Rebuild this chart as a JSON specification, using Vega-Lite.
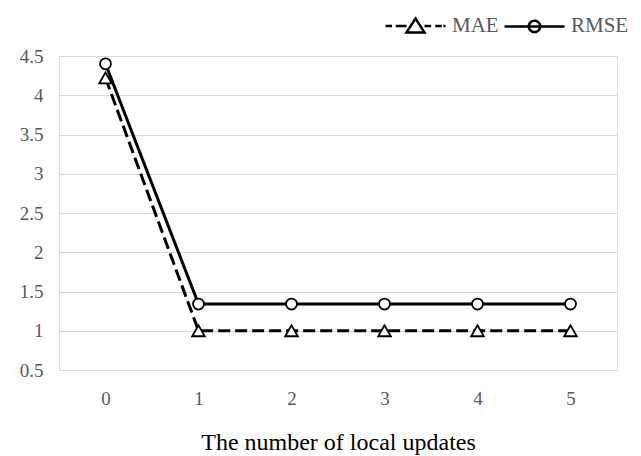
{
  "$schema": "https://vega.github.io/schema/vega-lite/v6.json",
  "autosize": "none",
  "width": 558,
  "height": 314,
  "padding": {"left": 59, "top": 56, "right": 24, "bottom": 86},
  "background": "white",
  "config": {
    "view": {"stroke": "#d9d9d9", "strokeWidth": 1},
    "font": "Liberation Serif",
    "axis": {"labelFont": "Liberation Serif", "titleFont": "Liberation Serif"},
    "legend": {"labelFont": "Liberation Serif"}
  },
  "data": {
    "values": [
      {"updates": "0", "series": "MAE", "value": 4.22},
      {"updates": "1", "series": "MAE", "value": 1.0},
      {"updates": "2", "series": "MAE", "value": 1.0},
      {"updates": "3", "series": "MAE", "value": 1.0},
      {"updates": "4", "series": "MAE", "value": 1.0},
      {"updates": "5", "series": "MAE", "value": 1.0},
      {"updates": "0", "series": "RMSE", "value": 4.4},
      {"updates": "1", "series": "RMSE", "value": 1.34},
      {"updates": "2", "series": "RMSE", "value": 1.34},
      {"updates": "3", "series": "RMSE", "value": 1.34},
      {"updates": "4", "series": "RMSE", "value": 1.34},
      {"updates": "5", "series": "RMSE", "value": 1.34}
    ]
  },
  "encoding": {
    "x": {
      "field": "updates",
      "type": "ordinal",
      "sort": ["0", "1", "2", "3", "4", "5"],
      "scale": {"type": "point", "padding": 0.5},
      "axis": {
        "title": "The number of local updates",
        "titleFontSize": 24,
        "titleFontWeight": "normal",
        "titleColor": "#000000",
        "titlePadding": 22,
        "labelAngle": 0,
        "labelFontSize": 19,
        "labelColor": "#595959",
        "labelPadding": 19,
        "ticks": false,
        "domain": false,
        "grid": false
      }
    },
    "y": {
      "field": "value",
      "type": "quantitative",
      "scale": {"domain": [0.5, 4.5], "nice": false, "zero": false},
      "axis": {
        "title": null,
        "values": [0.5, 1, 1.5, 2, 2.5, 3, 3.5, 4, 4.5],
        "format": "~g",
        "labelFontSize": 19,
        "labelColor": "#595959",
        "labelPadding": 16,
        "ticks": false,
        "domain": false,
        "grid": true,
        "gridColor": "#d9d9d9",
        "gridWidth": 1
      }
    }
  },
  "layer": [
    {
      "mark": {"type": "line", "strokeWidth": 3},
      "encoding": {
        "detail": {"field": "series"},
        "strokeDash": {
          "condition": {"test": "datum.series === 'MAE'", "value": [12, 5]},
          "value": [1, 0]
        },
        "color": {
          "field": "series",
          "type": "nominal",
          "scale": {"domain": ["MAE", "RMSE"], "range": ["#000000", "#000000"]},
          "legend": {
            "title": null,
            "orient": "none",
            "direction": "horizontal",
            "legendX": 325,
            "legendY": -62,
            "symbolSize": 3600,
            "symbolStrokeWidth": 2.5,
            "labelFontSize": 21,
            "labelColor": "#595959",
            "labelOffset": 5,
            "columnPadding": 0,
            "encode": {
              "symbols": {
                "update": {
                  "shape": {"signal": "datum.value === 'MAE' ? 'M-1,0H-0.78M-0.66,0H-0.3M0.3,0H0.52M0.66,0H0.88M0.93,0H1M0,-0.25L0.3,0.22L-0.3,0.22Z' : 'M-1,0H1M-0.19,0A0.19,0.19 0 1,0 0.19,0A0.19,0.19 0 1,0 -0.19,0'"},
                  "size": {"value": 3600},
                  "strokeDash": {"value": [1, 0]},
                  "strokeWidth": {"value": 2.5},
                  "fill": {"value": "#ffffff"},
                  "fillOpacity": {"value": 1},
                  "opacity": {"value": 1}
                }
              }
            }
          }
        }
      }
    },
    {
      "mark": {"type": "point", "filled": true, "fill": "#ffffff", "stroke": "#000000", "strokeWidth": 1.8, "opacity": 1},
      "encoding": {
        "shape": {
          "condition": {"test": "datum.series === 'MAE'", "value": "triangle-up"},
          "value": "circle"
        },
        "size": {
          "condition": {"test": "datum.series === 'MAE'", "value": 160},
          "value": 120
        }
      }
    }
  ]
}
